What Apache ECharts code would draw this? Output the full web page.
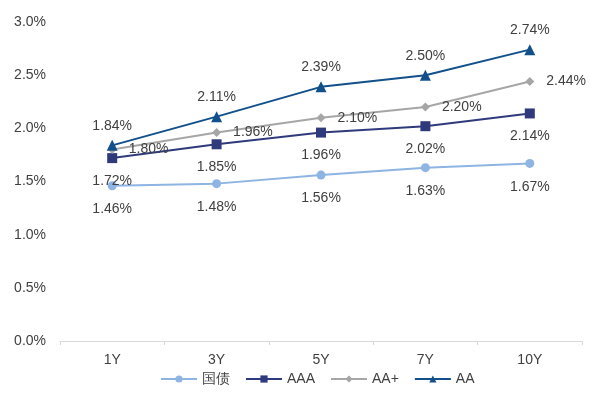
<!DOCTYPE html>
<html><head><meta charset="utf-8">
<script src="https://cdn.jsdelivr.net/npm/echarts@6/dist/echarts.min.js"></script>
<style>html,body{margin:0;padding:0;background:#fff}#c{width:591px;height:393px}</style>
</head><body><div id="c"></div>
<script>
var categories = ['1Y','3Y','5Y','7Y','10Y'];
var guozhai = [1.46,1.48,1.56,1.63,1.67];
var aaa = [1.72,1.85,1.96,2.02,2.14];
var aaPlus = [1.80,1.96,2.10,2.20,2.44];
var aa = [1.84,2.11,2.39,2.50,2.74];
var yTicks = [0,0.5,1.0,1.5,2.0,2.5,3.0];

var font = 'Liberation Sans, Arial, sans-serif';
var txt = '#404040';
function lbl(pos, dist){
  return {show:true, position:pos, distance:dist, color:txt, fontSize:14, fontFamily:font,
    formatter:function(p){return p.value.toFixed(2)+'%';}};
}
var chart = echarts.init(document.getElementById('c'), null, {renderer:'canvas'});
chart.setOption({
  animation:false,
  grid:{left:60, right:9, top:22, bottom:52},
  legend:{top:367, left:155, itemWidth:36, itemHeight:9, itemGap:15,
    textStyle:{color:txt, fontSize:14, fontFamily:font},
    data:['国债','AAA','AA+','AA']},
  xAxis:{type:'category', data:categories, boundaryGap:true,
    axisLine:{lineStyle:{color:'#d9d9d9', width:1}},
    axisTick:{show:true, inside:false, length:4, lineStyle:{color:'#d9d9d9'}},
    axisLabel:{color:txt, fontSize:14, fontFamily:font, margin:12}},
  yAxis:{type:'value', min:yTicks[0], max:yTicks[yTicks.length-1], interval:0.5,
    splitLine:{show:false}, axisLine:{show:false}, axisTick:{show:false},
    axisLabel:{color:txt, fontSize:14, fontFamily:font, margin:14,
      formatter:function(v){return v.toFixed(1)+'%';}}},
  series:[
    {name:'国债', type:'line', data:guozhai, symbol:'circle', symbolSize:9,
      lineStyle:{color:'#8db4e2', width:2}, itemStyle:{color:'#8db4e2'}, label:lbl('bottom',12)},
    {name:'AAA', type:'line', data:aaa, symbol:'rect', symbolSize:10,
      lineStyle:{color:'#2f3a7c', width:2}, itemStyle:{color:'#2f3a7c'}, label:lbl('bottom',11)},
    {name:'AA+', type:'line', data:aaPlus, symbol:'diamond', symbolSize:9,
      lineStyle:{color:'#a6a6a6', width:2}, itemStyle:{color:'#a6a6a6'}, label:lbl('right',12)},
    {name:'AA', type:'line', data:aa, symbol:'triangle', symbolSize:11,
      lineStyle:{color:'#11508a', width:2}, itemStyle:{color:'#11508a'}, label:lbl('top',7)}
  ]
});
</script></body></html>
